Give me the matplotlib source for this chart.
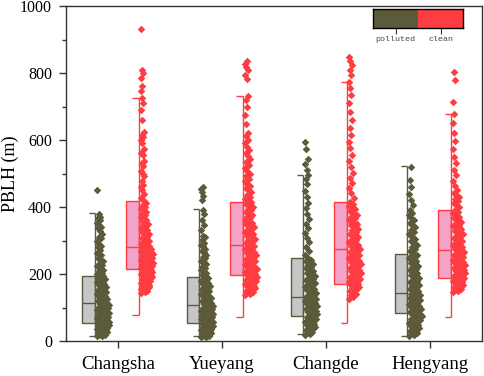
import matplotlib
matplotlib.use("Agg")
import matplotlib.pyplot as plt
import numpy as np

sites = ["Changsha", "Yueyang", "Changde", "Hengyang"]

# box statistics: whisker low, q1, median, q3, whisker high
pol_stats = {
    "whislo": [15, 15, 20, 15],
    "q1": [55, 53, 75, 83],
    "med": [115, 107, 132, 142],
    "q3": [194, 192, 249, 259],
    "whishi": [381, 394, 497, 522],
}
cln_stats = {
    "whislo": [78, 72, 55, 71],
    "q1": [214, 196, 169, 189],
    "med": [280, 286, 276, 272],
    "q3": [419, 415, 416, 391],
    "whishi": [726, 731, 772, 679],
}

# PBLH samples (m), estimated from the scattered points
cs_pol = [14, 17, 21, 23, 26, 29, 31, 33, 36, 38, 41, 43, 45, 47, 49, 51, 53, 55,
          58, 61, 64, 66, 70, 73, 76, 79, 83, 86, 88, 92, 95, 98, 101, 104, 107, 110, 113,
          117, 121, 124, 128, 133, 137, 140, 144, 149, 153, 157, 161, 166, 171, 175, 180, 184, 189, 193,
          197, 203, 209, 216, 224, 231, 239, 247, 256, 264, 273, 281, 290, 299, 308, 318, 327, 336,
          345, 353, 362, 370, 378, 451,
          16, 19, 25, 28, 34, 37, 40, 44, 48, 52, 56, 60, 68, 72, 77, 81, 85, 90, 94, 100, 106,
          112, 119, 126, 131, 139, 146, 155, 163, 170, 178, 186, 200, 212, 228, 243, 260, 285,
          312, 340, 366]
cs_cln = [143, 148, 152, 157, 161, 166, 170, 175, 179, 184, 188, 193, 197, 201, 205, 209, 213,
          217, 221, 225, 229, 233, 237, 241, 245, 249, 253, 257, 261, 265, 269, 273, 277,
          283, 290, 296, 303, 310, 318, 326, 334, 342, 350, 358, 366, 375, 384, 393, 402, 411, 419,
          428, 440, 452, 465, 478, 492, 507, 522, 538, 555, 572, 590, 608, 625, 660, 690, 712, 726,
          746, 762, 785, 800, 808, 932,
          145, 150, 155, 159, 164, 168, 173, 177, 182, 186, 191, 195, 199, 203, 207, 211, 215,
          219, 223, 227, 231, 235, 239, 243, 247, 251, 255, 259, 263, 267, 271, 275, 280, 287,
          294, 300, 307, 314, 322, 330, 338, 346, 354, 362, 370, 380, 390, 400, 460, 500, 530,
          560, 600, 615]
yy_pol = [12, 15, 18, 21, 24, 27, 30, 33, 36, 39, 42, 45, 48, 50, 53,
          56, 59, 63, 67, 71, 74, 78, 82, 86, 90, 94, 98, 102, 106,
          110, 115, 120, 125, 130, 135, 141, 147, 153, 159, 165, 171, 177, 183, 188, 192,
          198, 205, 213, 221, 230, 239, 248, 257, 266, 275, 284, 293, 303, 315, 330, 345, 362,
          378, 392, 420, 432, 445, 455, 460,
          13, 16, 20, 23, 26, 29, 32, 35, 38, 41, 44, 47, 51, 55, 58, 61, 65, 69, 73, 76, 80,
          84, 88, 92, 96, 100, 104, 112, 118, 123, 128, 133, 138, 144, 150, 156, 162, 168, 174,
          180, 186, 202, 217, 235, 252, 270, 288, 310]
yy_cln = [137, 142, 148, 153, 158, 163, 168, 173, 178, 183, 188, 193,
          199, 205, 211, 217, 223, 229, 235, 242, 249, 256, 263, 270, 277, 284,
          290, 298, 306, 314, 322, 330, 339, 348, 357, 366, 375, 385, 395, 405, 414,
          425, 437, 450, 463, 477, 492, 508, 525, 542, 560, 580, 600, 622, 648, 675, 700, 718,
          731, 782, 795, 808, 818, 826, 835,
          140, 145, 150, 155, 160, 165, 170, 175, 180, 185, 190, 196, 202, 208, 214, 220, 226,
          232, 239, 246, 253, 260, 267, 274, 281, 294, 302, 310, 318, 326, 335, 344, 353, 362,
          371, 380, 390, 400, 410, 420, 431, 444, 457, 470, 485, 500, 517, 533, 551, 570, 590, 611]
cd_pol = [18, 24, 30, 36, 42, 48, 54, 60, 66, 71, 75,
          80, 86, 92, 98, 104, 110, 116, 121, 126, 131,
          137, 144, 151, 158, 166, 174, 182, 190, 199, 208, 217, 226, 235, 243, 249,
          258, 270, 282, 295, 308, 322, 336, 350, 365, 380, 396, 412, 430, 448, 468, 485, 497,
          512, 527, 543, 574, 595,
          21, 27, 33, 39, 45, 51, 57, 63, 69, 78, 83, 89, 95, 101, 107, 113, 119, 124, 129,
          140, 148, 155, 162, 170, 178, 186, 195, 204, 212, 221, 230, 239]
cd_cln = [125, 132, 139, 146, 152, 158, 163, 168,
          174, 180, 186, 192, 198, 205, 212, 219, 226, 233, 240, 247, 254, 261, 268, 275,
          283, 292, 301, 310, 320, 330, 340, 350, 360, 371, 382, 393, 404, 415,
          428, 442, 456, 471, 487, 503, 520, 538, 556, 575, 595, 615, 637, 660, 685, 710, 735,
          755, 772, 795, 810, 825, 835, 847,
          136, 149, 161, 171, 177, 183, 189, 195, 202, 209, 216, 223, 230, 237, 244, 251, 258,
          265, 272, 279, 288, 297, 306, 315, 325, 335, 345, 355, 366, 377, 388, 399, 410]
hy_pol = [14, 20, 26, 32, 38, 44, 50, 56, 62, 67, 72, 77, 82,
          88, 94, 100, 106, 112, 118, 124, 130, 136, 141,
          148, 156, 164, 172, 180, 189, 198, 207, 216, 225, 234, 243, 251, 258,
          268, 280, 292, 305, 318, 332, 346, 360, 375, 390, 405, 422, 440, 460, 482, 520,
          17, 23, 29, 35, 41, 47, 53, 59, 65, 70, 75, 80, 85, 91, 97, 103, 109, 115, 121, 127,
          133, 139, 152, 160, 168, 176, 185, 194, 203, 212, 221, 230, 239, 247, 255, 263, 275,
          286, 298, 312, 325, 339, 353, 368, 383]
hy_cln = [147, 152, 157, 162, 167, 172, 177, 182, 187,
          192, 198, 204, 210, 216, 222, 228, 234, 240, 246, 252, 258, 264, 270,
          276, 284, 292, 300, 308, 316, 325, 334, 343, 352, 361, 371, 381, 390,
          400, 412, 424, 437, 450, 464, 479, 495, 512, 530, 550, 572, 596, 622, 650, 678, 714,
          779, 804,
          150, 155, 160, 165, 170, 175, 180, 185, 195, 201, 207, 213, 219, 225, 231, 237, 243,
          249, 255, 261, 267, 280, 288, 296, 304, 312, 320, 329, 338, 347, 356, 366, 376, 386,
          406, 418, 430, 443]

pol_data = [cs_pol, yy_pol, cd_pol, hy_pol]
cln_data = [cs_cln, yy_cln, cd_cln, hy_cln]

pol_color = "#5b5a3a"
cln_color = "#ff3c42"
pol_fill = "#c6c6c6"
cln_fill = "#f3a3c8"

plt.rcParams["font.family"] = ["Liberation Serif", "DejaVu Serif"]

fig = plt.figure(figsize=(4.84, 3.76), dpi=100)
ax = fig.add_axes([0.136, 0.093, 0.86, 0.891])

bw = 0.12


def half_box(ax, pos, st, i, edge, fill):
    ax.bar(pos, st["q3"][i] - st["q1"][i], bottom=st["q1"][i], width=bw,
           color=fill, edgecolor=edge, linewidth=1, zorder=2)
    right = pos + bw / 2
    ax.hlines(st["med"][i], pos - bw / 2, right, color=edge, lw=1, zorder=3)
    ax.vlines(right, st["whislo"][i], st["whishi"][i], color=edge, lw=1, zorder=3)
    ax.hlines([st["whislo"][i], st["whishi"][i]], pos, right, color=edge, lw=1, zorder=3)


def half_points(ax, pos, vals, color):
    v = np.sort(np.array(vals, dtype=float))
    dens = np.exp(-(v[:, None] - v[None, :]) ** 2 / (2 * 40.0 ** 2)).sum(axis=1)
    dens = dens / dens.max()
    u = (np.arange(len(v)) * 0.618034) % 1
    x = pos + bw / 2 + 0.018 + 0.125 * (0.12 + 0.88 * dens) * u
    ax.scatter(x, v, marker="D", s=15, color=color, linewidths=0, zorder=4)


for i in range(len(sites)):
    pp = i + 1 - 0.28
    cp = i + 1 + 0.14
    half_box(ax, pp, pol_stats, i, pol_color, pol_fill)
    half_box(ax, cp, cln_stats, i, cln_color, cln_fill)
    half_points(ax, pp, pol_data[i], pol_color)
    half_points(ax, cp, cln_data[i], cln_color)

ax.set_xlim(0.5, 4.5)
ax.set_ylim(0, 1000)
ax.set_xticks(range(1, 5))
ax.set_xticklabels(sites, fontsize=13.5)
ax.set_yticks(range(0, 1001, 200))
ax.set_yticks(range(100, 1000, 200), minor=True)
ax.tick_params(axis="y", labelsize=11.5, length=5, width=1, pad=5, color="#333333")
ax.tick_params(axis="y", which="minor", length=3, width=1, color="#333333")
ax.tick_params(axis="x", length=5, width=1, pad=6, color="#333333")
ax.tick_params(top=False, right=False)
for s in ax.spines.values():
    s.set_color("#333333")
    s.set_linewidth(1)
ax.set_ylabel("PBLH (m)", fontsize=13)
ax.yaxis.set_label_coords(-0.112, 0.5)

# colour-block legend in the top right corner
lax = fig.add_axes([0.771, 0.9255, 0.186, 0.0505])
lax.bar([0.5, 1.5], [1, 1], width=1, color=[pol_color, cln_color], linewidth=0)
lax.set_xlim(0, 2)
lax.set_ylim(0, 1)
lax.set_yticks([])
lax.set_xticks([0.5, 1.5])
lax.set_xticklabels(["polluted", "clean"], family=["Liberation Mono", "DejaVu Sans Mono"],
                    fontsize=6, color="#444444")
lax.tick_params(axis="x", length=4, width=0.8, pad=2, color="#333333")
for s in lax.spines.values():
    s.set_color("black")
    s.set_linewidth(1)

fig.savefig("out.png", dpi=100)
